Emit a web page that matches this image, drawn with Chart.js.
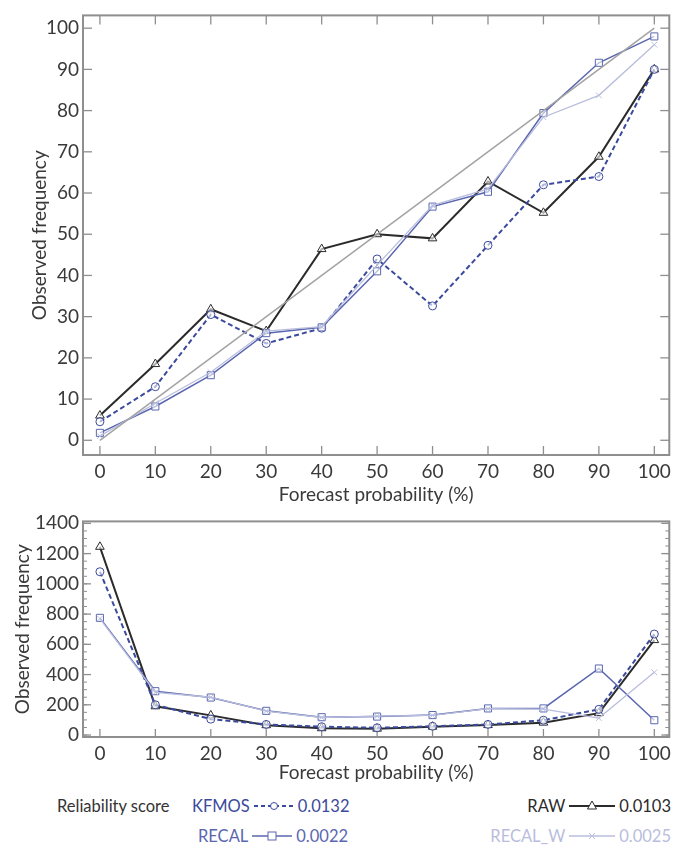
<!DOCTYPE html>
<html>
<head>
<meta charset="utf-8">
<script src="https://cdn.jsdelivr.net/npm/chart.js@4.4.0/dist/chart.umd.min.js"></script>
<style>
  html, body { margin: 0; padding: 0; background: #fff; }
  body { width: 676px; height: 846px; position: relative; overflow: hidden; font-family: Lato, "Open Sans", sans-serif; }
  #topBox { position: absolute; left: 0; top: 0; width: 676px; height: 506px; }
  #botBox { position: absolute; left: 0; top: 506px; width: 676px; height: 278px; }
  .lg { position: absolute; font-size: 16.5px; line-height: 20px; white-space: nowrap; display: flex; align-items: center; }
  .lg svg { margin: 0 4px; }
</style>
</head>
<body>
<div id="topBox"><canvas id="relChart"></canvas></div>
<div id="botBox"><canvas id="cntChart"></canvas></div>

<div class="lg" style="left:57px;top:796px;color:#333">Reliability score</div>
<div class="lg" style="left:192px;top:796px;color:#3b4a9c">KFMOS<svg width="40" height="14"><line x1="0" y1="7" x2="40" y2="7" stroke="#3b4a9c" stroke-width="2" stroke-dasharray="4,3"/><circle cx="20" cy="7" r="3.5" fill="#fff" stroke="#3b4a9c" stroke-width="1"/></svg>0.0132</div>
<div class="lg" style="right:5px;top:796px;color:#2b2b2b">RAW<svg width="46" height="14"><line x1="0" y1="7" x2="46" y2="7" stroke="#2b2b2b" stroke-width="2"/><polygon points="23,2 27.5,10 18.5,10" fill="#fff" stroke="#2b2b2b" stroke-width="1"/></svg>0.0103</div>
<div class="lg" style="left:198px;top:826px;color:#5a67b0">RECAL<svg width="40" height="14"><line x1="0" y1="7" x2="40" y2="7" stroke="#5a67b0" stroke-width="1.5"/><rect x="16" y="3" width="8" height="8" fill="#fff" stroke="#5a67b0" stroke-width="1"/></svg>0.0022</div>
<div class="lg" style="right:5px;top:826px;color:#b9bddd">RECAL_W<svg width="46" height="14"><line x1="0" y1="7" x2="46" y2="7" stroke="#b9bddd" stroke-width="1.5"/><path d="M20 4 L26 10 M26 4 L20 10" stroke="#b9bddd" stroke-width="1"/></svg>0.0025</div>

<script>
(function(){
  // forecast probability bins (%)
  var PROB = [0, 10, 20, 30, 40, 50, 60, 70, 80, 90, 100];
  var X_TICKS = [0, 10, 20, 30, 40, 50, 60, 70, 80, 90, 100];

  // top panel: observed relative frequency (%)
  var REL_KFMOS  = [4.5, 13, 30.5, 23.5, 27.2, 44, 32.6, 47.3, 62, 64, 90];
  var REL_RAW    = [6, 18.5, 31.8, 26.5, 46.4, 50, 49, 62.8, 55.2, 68.8, 90];
  var REL_RECAL  = [1.8, 8.2, 15.8, 26, 27.4, 41, 56.7, 60.3, 79.4, 91.6, 98];
  var REL_RECALW = [1, 9, 16.5, 26.5, 27.6, 42.5, 57, 61, 78.4, 83.7, 96];
  var PERFECT_X  = [0, 100];
  var PERFECT_Y  = [0, 100];
  var REL_TICKS  = [0, 10, 20, 30, 40, 50, 60, 70, 80, 90, 100];

  // bottom panel: number of forecasts per bin
  var CNT_KFMOS  = [1080, 200, 105, 70, 55, 48, 58, 70, 98, 170, 668];
  var CNT_RAW    = [1245, 190, 130, 65, 45, 42, 55, 66, 82, 145, 628];
  var CNT_RECAL  = [775, 290, 248, 160, 118, 122, 132, 176, 176, 440, 98];
  var CNT_RECALW = [770, 282, 250, 158, 116, 125, 130, 174, 172, 112, 415];
  var CNT_TICKS  = [0, 200, 400, 600, 800, 1000, 1200, 1400];
  var CNT_MINOR  = 50;

  var C_RAW = "#2b2b2b", C_KF = "#3b4a9c", C_RC = "#5a67b0", C_RW = "#b9bddd", C_DIAG = "#a3a3a3";
  var FRAME = "#8f8f8f", TXT = "#3a3a3a";
  var FONT = "Lato, 'Open Sans', sans-serif";

  function pts(xs, ys){ return xs.map(function(x, i){ return { x: x, y: ys[i] }; }); }
  function plain(v){ return String(v); }

  function series(label, ys, color, width, marker, radius, dash){
    return {
      label: label, data: pts(PROB, ys),
      borderColor: color, borderWidth: width, borderDash: dash || [],
      pointStyle: marker, pointRadius: radius, pointBorderWidth: 1,
      pointBorderColor: color, pointBackgroundColor: "rgba(255,255,255,0.6)",
      tension: 0, fill: false
    };
  }

  // frame with inward ticks, matlab style
  var frameTicks = {
    id: "frameTicks",
    beforeDatasetsDraw: function(chart, args, o){
      var a = chart.chartArea, ctx = chart.ctx, xs = chart.scales.x, ys = chart.scales.y;
      function ln(x1, y1, x2, y2){ ctx.beginPath(); ctx.moveTo(x1, y1); ctx.lineTo(x2, y2); ctx.stroke(); }
      ctx.save();
      ctx.strokeStyle = FRAME;
      ctx.lineWidth = 1.3;
      xs.ticks.forEach(function(t){
        var p = xs.getPixelForValue(t.value);
        ln(p, a.bottom, p, a.bottom - o.len);
        if(o.topTicks) ln(p, a.top, p, a.top + o.len);
      });
      ys.ticks.forEach(function(t){
        var p = ys.getPixelForValue(t.value);
        ln(a.left, p, a.left + o.len, p);
        ln(a.right, p, a.right - o.len, p);
      });
      if(o.minor){
        ctx.lineWidth = 1;
        for(var v = 0; v <= ys.max; v += o.minor){
          var p = ys.getPixelForValue(v);
          ln(a.left, p, a.left + 4, p);
          ln(a.right, p, a.right - 4, p);
        }
      }
      ctx.lineWidth = 2;
      ctx.strokeRect(a.left, a.top, a.right - a.left, a.bottom - a.top);
      ctx.restore();
    }
  };

  function axisX(height, titleText){
    return {
      type: "linear", min: -3.05, max: 102.7,
      afterBuildTicks: function(s){ s.ticks = X_TICKS.map(function(v){ return { value: v }; }); },
      afterFit: function(s){ s.height = height; },
      grid: { display: false, drawTicks: false }, border: { display: false },
      ticks: { color: TXT, font: { family: FONT, size: 19 }, padding: 5, maxRotation: 0, callback: plain },
      title: { display: true, text: titleText, color: TXT, font: { family: FONT, size: 19 }, padding: { top: 0, bottom: 0 } }
    };
  }

  function axisY(min, max, tickVals, titlePad){
    return {
      type: "linear", min: min, max: max,
      afterBuildTicks: function(s){ s.ticks = tickVals.map(function(v){ return { value: v }; }); },
      afterFit: function(s){ s.width = 83; },
      grid: { display: false, drawTicks: false }, border: { display: false },
      ticks: { color: TXT, font: { family: FONT, size: 19 }, padding: 4, callback: plain },
      title: { display: true, text: "Observed frequency", color: TXT, font: { family: FONT, size: 19 }, padding: { top: titlePad, bottom: 0 } }
    };
  }

  Chart.defaults.animation = false;

  new Chart(document.getElementById("relChart"), {
    type: "line",
    data: {
      datasets: [
        { label: "perfect", data: pts(PERFECT_X, PERFECT_Y), borderColor: C_DIAG, borderWidth: 1.5, pointRadius: 0, fill: false },
        series("RECAL_W", REL_RECALW, C_RW, 1.3, "crossRot", 4),
        series("RECAL", REL_RECAL, C_RC, 1.5, "rect", 5),
        series("KFMOS", REL_KFMOS, C_KF, 2, "circle", 4, [5, 3]),
        series("RAW", REL_RAW, C_RAW, 2, "triangle", 5)
      ]
    },
    options: {
      responsive: true, maintainAspectRatio: false,
      layout: { padding: { top: 7, right: 3, left: 0, bottom: 0 } },
      plugins: { legend: { display: false }, tooltip: { enabled: false }, frameTicks: { len: 9, topTicks: true } },
      scales: { x: axisX(51, "Forecast probability (%)"), y: axisY(-3.57, 103.1, REL_TICKS, 28) }
    },
    plugins: [frameTicks]
  });

  new Chart(document.getElementById("cntChart"), {
    type: "line",
    data: {
      datasets: [
        series("RECAL_W", CNT_RECALW, C_RW, 1.3, "crossRot", 4),
        series("RECAL", CNT_RECAL, C_RC, 1.5, "rect", 5),
        series("KFMOS", CNT_KFMOS, C_KF, 2, "circle", 4, [5, 3]),
        series("RAW", CNT_RAW, C_RAW, 2, "triangle", 5)
      ]
    },
    options: {
      responsive: true, maintainAspectRatio: false,
      layout: { padding: { top: 15, right: 3, left: 0, bottom: 0 } },
      plugins: { legend: { display: false }, tooltip: { enabled: false }, frameTicks: { len: 8, topTicks: false, minor: CNT_MINOR } },
      scales: { x: axisX(47, "Forecast probability (%)"), y: axisY(-13, 1413, CNT_TICKS, 11) }
    },
    plugins: [frameTicks]
  });
})();
</script>
</body>
</html>
